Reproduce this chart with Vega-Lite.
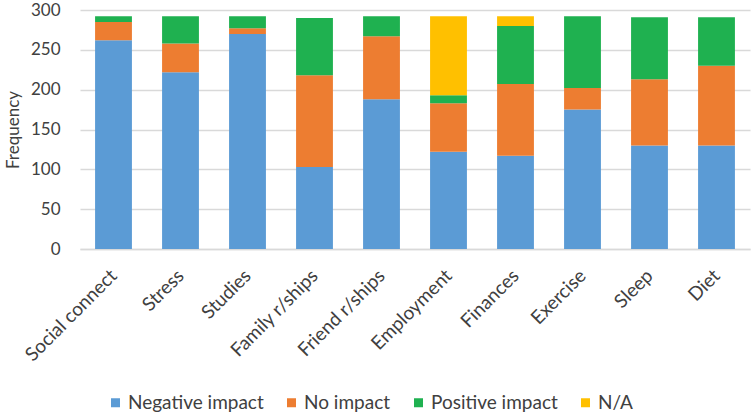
{
  "$schema": "https://vega.github.io/schema/vega-lite/v6.json",
  "width": 670,
  "height": 239,
  "autosize": {"type": "none"},
  "padding": {"left": 80, "top": 10, "right": 2, "bottom": 164},
  "background": "white",
  "config": {
    "font": "Lato",
    "view": {"stroke": null},
    "axis": {"labelColor": "#404040", "titleColor": "#404040", "labelFontSize": 17, "titleFontSize": 17, "titleFontWeight": "normal", "labelFont": "Lato", "titleFont": "Lato"},
    "legend": {"labelColor": "#404040", "labelFontSize": 19, "labelFont": "Lato"}
  },
  "data": {
    "values": [
      {"area": "Social connect", "impact": "Negative impact", "n": 262},
      {"area": "Social connect", "impact": "No impact", "n": 23},
      {"area": "Social connect", "impact": "Positive impact", "n": 7},
      {"area": "Stress", "impact": "Negative impact", "n": 222},
      {"area": "Stress", "impact": "No impact", "n": 36},
      {"area": "Stress", "impact": "Positive impact", "n": 34},
      {"area": "Studies", "impact": "Negative impact", "n": 270},
      {"area": "Studies", "impact": "No impact", "n": 7},
      {"area": "Studies", "impact": "Positive impact", "n": 15},
      {"area": "Family r/ships", "impact": "Negative impact", "n": 103},
      {"area": "Family r/ships", "impact": "No impact", "n": 115},
      {"area": "Family r/ships", "impact": "Positive impact", "n": 72},
      {"area": "Friend r/ships", "impact": "Negative impact", "n": 188},
      {"area": "Friend r/ships", "impact": "No impact", "n": 79},
      {"area": "Friend r/ships", "impact": "Positive impact", "n": 25},
      {"area": "Employment", "impact": "Negative impact", "n": 122},
      {"area": "Employment", "impact": "No impact", "n": 61},
      {"area": "Employment", "impact": "Positive impact", "n": 10},
      {"area": "Employment", "impact": "N/A", "n": 99},
      {"area": "Finances", "impact": "Negative impact", "n": 117},
      {"area": "Finances", "impact": "No impact", "n": 90},
      {"area": "Finances", "impact": "Positive impact", "n": 73},
      {"area": "Finances", "impact": "N/A", "n": 12},
      {"area": "Exercise", "impact": "Negative impact", "n": 175},
      {"area": "Exercise", "impact": "No impact", "n": 27},
      {"area": "Exercise", "impact": "Positive impact", "n": 90},
      {"area": "Sleep", "impact": "Negative impact", "n": 130},
      {"area": "Sleep", "impact": "No impact", "n": 83},
      {"area": "Sleep", "impact": "Positive impact", "n": 78},
      {"area": "Diet", "impact": "Negative impact", "n": 130},
      {"area": "Diet", "impact": "No impact", "n": 100},
      {"area": "Diet", "impact": "Positive impact", "n": 61}
    ]
  },
  "mark": {"type": "bar"},
  "encoding": {
    "x": {
      "field": "area", "type": "nominal",
      "sort": ["Social connect", "Stress", "Studies", "Family r/ships", "Friend r/ships", "Employment", "Finances", "Exercise", "Sleep", "Diet"],
      "scale": {"paddingInner": 0.45, "paddingOuter": 0.225},
      "axis": {"title": null, "labelAngle": -45, "labelFontSize": 19, "ticks": false, "domainColor": "#d9d9d9", "domainWidth": 1.5, "labelPadding": 17, "labelOffset": -6}
    },
    "y": {
      "field": "n", "type": "quantitative", "aggregate": "sum",
      "scale": {"domain": [0, 300]},
      "axis": {"title": "Frequency", "values": [0, 50, 100, 150, 200, 250, 300], "ticks": false, "domain": false, "gridColor": "#d9d9d9", "gridWidth": 1.5, "labelPadding": 20, "titlePadding": 8}
    },
    "color": {
      "field": "impact", "type": "nominal",
      "sort": ["Negative impact", "No impact", "Positive impact", "N/A"],
      "scale": {"domain": ["Negative impact", "No impact", "Positive impact", "N/A"], "range": ["#5B9BD5", "#ED7D31", "#1FB150", "#FFC000"]},
      "legend": {"title": null, "orient": "none", "legendX": 26, "legendY": 383, "direction": "horizontal", "symbolType": "square", "symbolSize": 81, "symbolStrokeWidth": 0, "columnPadding": 18, "labelOffset": 3}
    },
    "order": {"field": "order", "type": "quantitative"}
  }
}
